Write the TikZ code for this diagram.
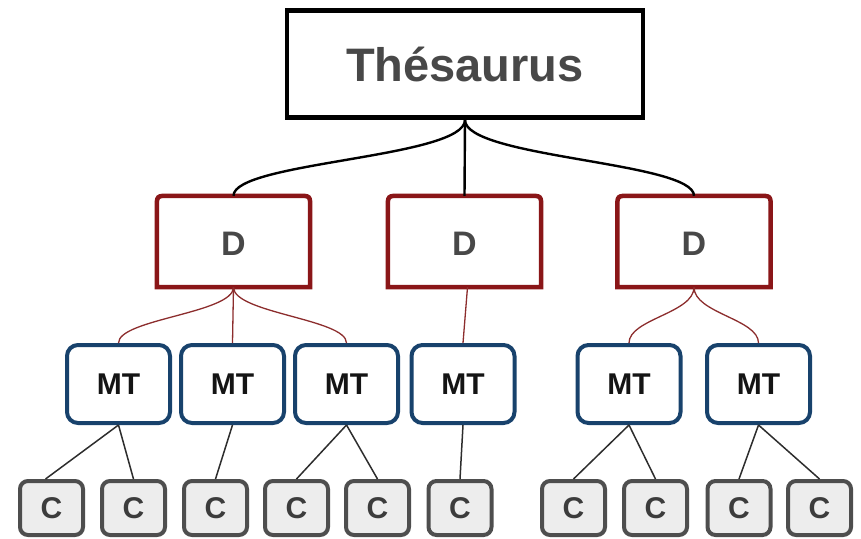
\documentclass[tikz,border=0pt]{standalone}
\usepackage{fontspec}
\setmainfont{Liberation Sans}
\definecolor{dred}{RGB}{138,22,24}
\definecolor{lred}{RGB}{140,45,45}
\definecolor{mtblue}{RGB}{24,66,108}
\definecolor{cgray}{RGB}{78,78,78}
\definecolor{cfill}{RGB}{237,237,237}
\definecolor{txgray}{RGB}{72,72,72}
\definecolor{ctext}{RGB}{60,60,60}
\definecolor{mline}{RGB}{45,45,45}
\tikzset{
  thbox/.style={draw=black, line width=4.8pt, fill=white, minimum width=356pt, minimum height=107pt, inner sep=0pt,
    font=\fontsize{47}{50}\selectfont\bfseries, text=txgray},
  dbox/.style={minimum width=153pt, minimum height=91pt, inner sep=0pt,
    font=\fontsize{34}{36}\selectfont\bfseries, text=txgray},
  dborder/.style={draw=dred, line width=4.5pt, fill=white, line join=miter},
  mtbox/.style={draw=mtblue, line width=4pt, rounded corners=11pt, fill=white, minimum width=103pt, minimum height=78pt,
    inner sep=0pt, font=\fontsize{30}{32}\selectfont\bfseries, text=black!92},
  cbox/.style={draw=cgray, line width=4pt, rounded corners=8pt, fill=cfill, minimum width=63pt, minimum height=54pt,
    inner sep=0pt, font=\fontsize{30}{32}\selectfont\bfseries, text=ctext},
  topline/.style={draw=black, line width=2.4pt},
  redline/.style={draw=lred, line width=1.3pt},
  cline/.style={draw=mline, line width=1.5pt}
}
\begin{document}
\begin{tikzpicture}[x=1pt,y=-1pt]
\useasboundingbox (0,0) rectangle (861,538);
% top node
\node[thbox] (th) at (465,64) {Thésaurus};
% D nodes (shapes drawn below)
\node[dbox] (d1) at (233.5,241.5) {};
\node[dbox] (d2) at (464.5,241.5) {};
\node[dbox] (d3) at (694,241.5) {};
\foreach \n in {d1,d2,d3}{
  \draw[dborder] (\n.south west) -- ([yshift=-12pt]\n.north west) .. controls (\n.north west) .. ([xshift=12pt]\n.north west)
    -- ([xshift=-12pt]\n.north east) .. controls (\n.north east) .. ([yshift=-12pt]\n.north east) -- (\n.south east) -- cycle;
  \node[dbox] at ([yshift=-2pt]\n.center) {D};
}
% MT nodes
\node[mtbox] (m1) at (118.5,384) {MT};
\node[mtbox] (m2) at (232.5,384) {MT};
\node[mtbox] (m3) at (346.5,384) {MT};
\node[mtbox] (m4) at (463,384) {MT};
\node[mtbox] (m5) at (629,384) {MT};
\node[mtbox] (m6) at (758.5,384) {MT};
% C nodes
\node[cbox] (c1) at (51.5,508) {C};
\node[cbox] (c2) at (133.5,508) {C};
\node[cbox] (c3) at (215.5,508) {C};
\node[cbox] (c4) at (296.5,508) {C};
\node[cbox] (c5) at (377.5,508) {C};
\node[cbox] (c6) at (460,508) {C};
\node[cbox] (c7) at (573.5,508) {C};
\node[cbox] (c8) at (655.5,508) {C};
\node[cbox] (c9) at (739,508) {C};
\node[cbox] (c10) at (819.5,508) {C};
% connectors top -> D
\draw[topline] (th.south) .. controls +(0,38) and +(0,-34) .. (d1.north);
\draw[topline] (th.south) -- (d2.north);
\draw[topline] (th.south) .. controls +(0,38) and +(0,-34) .. (d3.north);
% D -> MT
\draw[redline] (d1.south) .. controls +(0,26) and +(0,-24) .. (m1.north);
\draw[redline] (d1.south) -- (m2.north);
\draw[redline] (d1.south) .. controls +(0,26) and +(0,-24) .. (m3.north);
\draw[redline] ([xshift=3pt]d2.south) -- (m4.north);
\draw[redline] (d3.south) .. controls +(0,26) and +(0,-24) .. (m5.north);
\draw[redline] (d3.south) .. controls +(0,26) and +(0,-24) .. (m6.north);
% MT -> C
\draw[cline] (m1.south) -- ([xshift=-6pt]c1.north);
\draw[cline] (m1.south) -- (c2.north);
\draw[cline] (m2.south) -- (c3.north);
\draw[cline] (m3.south) -- (c4.north);
\draw[cline] (m3.south) -- (c5.north);
\draw[cline] (m4.south) -- (c6.north);
\draw[cline] (m5.south) -- (c7.north);
\draw[cline] (m5.south) -- (c8.north);
\draw[cline] (m6.south) -- (c9.north);
\draw[cline] (m6.south) -- (c10.north);
\end{tikzpicture}
\end{document}
